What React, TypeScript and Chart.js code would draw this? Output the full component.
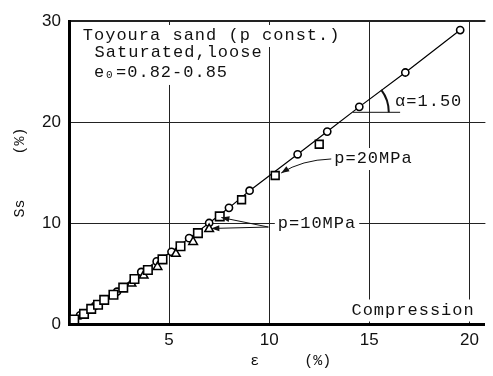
import React, { useEffect, useRef } from 'react';
import { Chart, registerables } from 'chart.js';

Chart.register(...registerables);

// Axis ticks
const xTicks = [0, 5, 10, 15, 20];
const yTicks = [0, 10, 20, 30];

// Circles (series connected by the line, slope alpha = 1.50)
const circleX = [0.55, 1.3, 2.4, 3.61, 4.38, 5.12, 6.0, 7.0, 7.99, 9.02, 11.42, 12.9, 14.5, 16.8, 19.54];
const circleY = [0.85, 1.8, 3.2, 5.15, 6.2, 7.15, 8.5, 10.0, 11.5, 13.2, 16.8, 19.05, 21.5, 24.9, 29.1];

// Squares, p = 10 MPa
const square10X = [0.26, 0.75, 1.11, 1.45, 1.76, 2.22, 2.71, 3.27, 3.94, 4.67, 5.57, 6.44, 7.53];
const square10Y = [0.45, 1.0, 1.5, 1.9, 2.39, 2.89, 3.6, 4.45, 5.35, 6.4, 7.7, 9.0, 10.66];

// Squares, p = 20 MPa
const square20X = [8.62, 10.3, 12.5];
const square20Y = [12.3, 14.7, 17.8];

// Triangles, p = 10 MPa
const triangleX = [3.12, 3.73, 4.42, 5.34, 6.2, 7.0];
const triangleY = [4.0, 4.8, 5.65, 6.95, 8.12, 9.4];

const pts = (xs: number[], ys: number[]) => xs.map((x, i) => ({ x, y: ys[i] }));

const MONO = '"Liberation Mono", "Courier New", monospace';
const SANS = '"Liberation Sans", Arial, sans-serif';

export default function App() {
  const ref = useRef<HTMLCanvasElement>(null);

  useEffect(() => {
    document.body.style.margin = '0';
    const canvas = ref.current!;
    const ctx = canvas.getContext('2d')!;

    const labels = [
      { text: 'Toyoura sand (p const.)', x: 0.69, y: 28.12 },
      { text: 'Saturated,loose', x: 1.28, y: 26.39 },
      { text: 'α=1.50', x: 16.29, y: 21.63 },
      { text: 'p=20MPa', x: 13.25, y: 15.94 },
      { text: 'p=10MPa', x: 10.43, y: 9.46 },
      { text: 'Compression', x: 14.11, y: 0.94 },
    ];
    const e0 = { x: 1.25, y: 24.46 };

    const setFont = (c: CanvasRenderingContext2D, size = 17) => {
      c.font = `${size}px ${MONO}`;
      (c as any).letterSpacing = '1px';
    };

    const arrowHead = (c: CanvasRenderingContext2D, fx: number, fy: number, tx: number, ty: number) => {
      const a = Math.atan2(ty - fy, tx - fx);
      const L = 8, W = 3;
      c.beginPath();
      c.moveTo(tx, ty);
      c.lineTo(tx - L * Math.cos(a) + W * Math.sin(a), ty - L * Math.sin(a) - W * Math.cos(a));
      c.lineTo(tx - L * Math.cos(a) - W * Math.sin(a), ty - L * Math.sin(a) + W * Math.cos(a));
      c.closePath();
      c.fill();
    };

    const annot = {
      id: 'annot',
      beforeDatasetsDraw(chart: any) {
        const c = chart.ctx as CanvasRenderingContext2D;
        const xs = chart.scales.x, ys = chart.scales.y;
        c.save();
        setFont(c);
        c.fillStyle = '#fff';
        for (const l of labels) {
          const px = xs.getPixelForValue(l.x), py = ys.getPixelForValue(l.y);
          const w = c.measureText(l.text).width;
          c.fillRect(px - 3, py - 15, w + 6, 22);
        }
        const ex = xs.getPixelForValue(e0.x), ey = ys.getPixelForValue(e0.y);
        c.fillRect(ex - 3, ey - 16, 140, 24);
        c.restore();
      },
      afterDatasetsDraw(chart: any) {
        const c = chart.ctx as CanvasRenderingContext2D;
        const xs = chart.scales.x, ys = chart.scales.y;
        const P = (x: number, y: number) => [xs.getPixelForValue(x), ys.getPixelForValue(y)];
        c.save();
        c.fillStyle = '#111';
        c.strokeStyle = '#111';
        c.textBaseline = 'alphabetic';
        c.textAlign = 'left';
        setFont(c);
        for (const l of labels) {
          const [px, py] = P(l.x, l.y);
          c.fillText(l.text, px, py);
        }
        // e0 = 0.82-0.85
        const [ex, ey] = P(e0.x, e0.y);
        c.fillText('e', ex, ey);
        setFont(c, 11);
        c.fillText('0', ex + 12, ey + 1);
        setFont(c);
        c.fillText('=0.82-0.85', ex + 22, ey);

        // p=20MPa arrow (curved)
        c.lineWidth = 1;
        const [s1x, s1y] = P(13.1, 16.34);
        const [c1x, c1y] = P(11.63, 16.24);
        const [e1x, e1y] = P(10.6, 14.95);
        c.beginPath();
        c.moveTo(s1x, s1y);
        c.quadraticCurveTo(c1x, c1y, e1x, e1y);
        c.stroke();
        arrowHead(c, c1x, c1y, e1x, e1y);

        // p=10MPa arrows
        const [s2x, s2y] = P(9.96, 9.6);
        const ends = [P(7.61, 10.54), P(7.11, 9.46)];
        for (const [tx, ty] of ends) {
          c.beginPath();
          c.moveTo(s2x, s2y);
          c.lineTo(tx, ty);
          c.stroke();
          arrowHead(c, s2x, s2y, tx, ty);
        }

        // alpha angle mark
        const yv = 20.96;
        const slope = (circleY[circleY.length - 1] - circleY[3]) / (circleX[circleX.length - 1] - circleX[3]);
        const xc = circleX[3] + (yv - circleY[3]) / slope;
        const [cx, cy] = P(xc, yv);
        const [hx1] = P(14.18, yv);
        const [hx2] = P(16.54, yv);
        c.lineWidth = 1;
        c.beginPath();
        c.moveTo(hx1, cy);
        c.lineTo(hx2, cy);
        c.stroke();
        const [qx, qy] = P(xc + 2, yv + 2 * slope);
        const ang = Math.atan2(qy - cy, qx - cx);
        c.lineWidth = 2;
        c.beginPath();
        c.arc(cx, cy, 37, ang, 0);
        c.stroke();
        c.restore();
      },
    };

    const chart = new Chart(ctx, {
      type: 'scatter',
      data: {
        datasets: [
          {
            label: 'circles',
            data: pts(circleX, circleY),
            showLine: true,
            borderColor: '#000',
            borderWidth: 1.2,
            pointStyle: 'circle',
            pointRadius: 3.6,
            pointBorderWidth: 1.6,
            pointBackgroundColor: '#fff',
            pointBorderColor: '#000',
            order: 3,
          },
          {
            label: 'squares p=10MPa',
            data: pts(square10X, square10Y),
            pointStyle: 'rect',
            pointRadius: 6,
            pointBorderWidth: 1.6,
            pointBackgroundColor: '#fff',
            pointBorderColor: '#000',
            order: 1,
          },
          {
            label: 'squares p=20MPa',
            data: pts(square20X, square20Y),
            pointStyle: 'rect',
            pointRadius: 5.5,
            pointBorderWidth: 1.6,
            pointBackgroundColor: '#fff',
            pointBorderColor: '#000',
            order: 1,
          },
          {
            label: 'triangles p=10MPa',
            data: pts(triangleX, triangleY),
            pointStyle: 'triangle',
            pointRadius: 5,
            pointBorderWidth: 1.5,
            pointBackgroundColor: '#fff',
            pointBorderColor: '#000',
            order: 2,
          },
        ],
      },
      options: {
        responsive: false,
        animation: false,
        events: [],
        layout: { padding: { top: 21, left: 0, right: 0, bottom: 0 } },
        plugins: { legend: { display: false }, tooltip: { enabled: false } },
        scales: {
          x: {
            type: 'linear',
            min: 0,
            max: 20.8,
            afterFit: (s: any) => { s.height = 52; },
            afterBuildTicks: (s: any) => { s.ticks = xTicks.map((v) => ({ value: v })); },
            ticks: {
              callback: (v: any) => (v === 0 ? '' : String(v)),
              font: { family: SANS, size: 17 },
              color: '#111',
              padding: 6,
              maxRotation: 0,
              autoSkip: false,
              includeBounds: false,
            },
            grid: {
              color: '#222',
              lineWidth: (c: any) => (c.tick && c.tick.value === 0 ? 0 : 1),
              drawTicks: false,
            },
            border: { display: true, color: '#000', width: 3 },
            title: {
              display: true,
              text: '   ε     (%)',
              font: { family: MONO, size: 15 },
              color: '#111',
              padding: 6,
            },
          },
          y: {
            type: 'linear',
            min: 0,
            max: 30,
            afterFit: (s: any) => { s.width = 69; },
            afterBuildTicks: (s: any) => { s.ticks = yTicks.map((v) => ({ value: v })); },
            ticks: {
              font: { family: SANS, size: 17 },
              color: '#111',
              padding: 8,
              autoSkip: false,
              includeBounds: false,
            },
            grid: {
              color: '#222',
              lineWidth: (c: any) => (c.tick && c.tick.value === 0 ? 0 : c.tick && c.tick.value === 30 ? 2 : 1),
              drawTicks: false,
            },
            border: { display: true, color: '#000', width: 3 },
            title: {
              display: true,
              text: 'Ss     (%)',
              font: { family: MONO, size: 15 },
              color: '#111',
              padding: 11,
            },
          },
        },
      },
      plugins: [annot],
    });
    return () => chart.destroy();
  }, []);

  return <canvas ref={ref} width={493} height={376} style={{ display: 'block' }} />;
}
